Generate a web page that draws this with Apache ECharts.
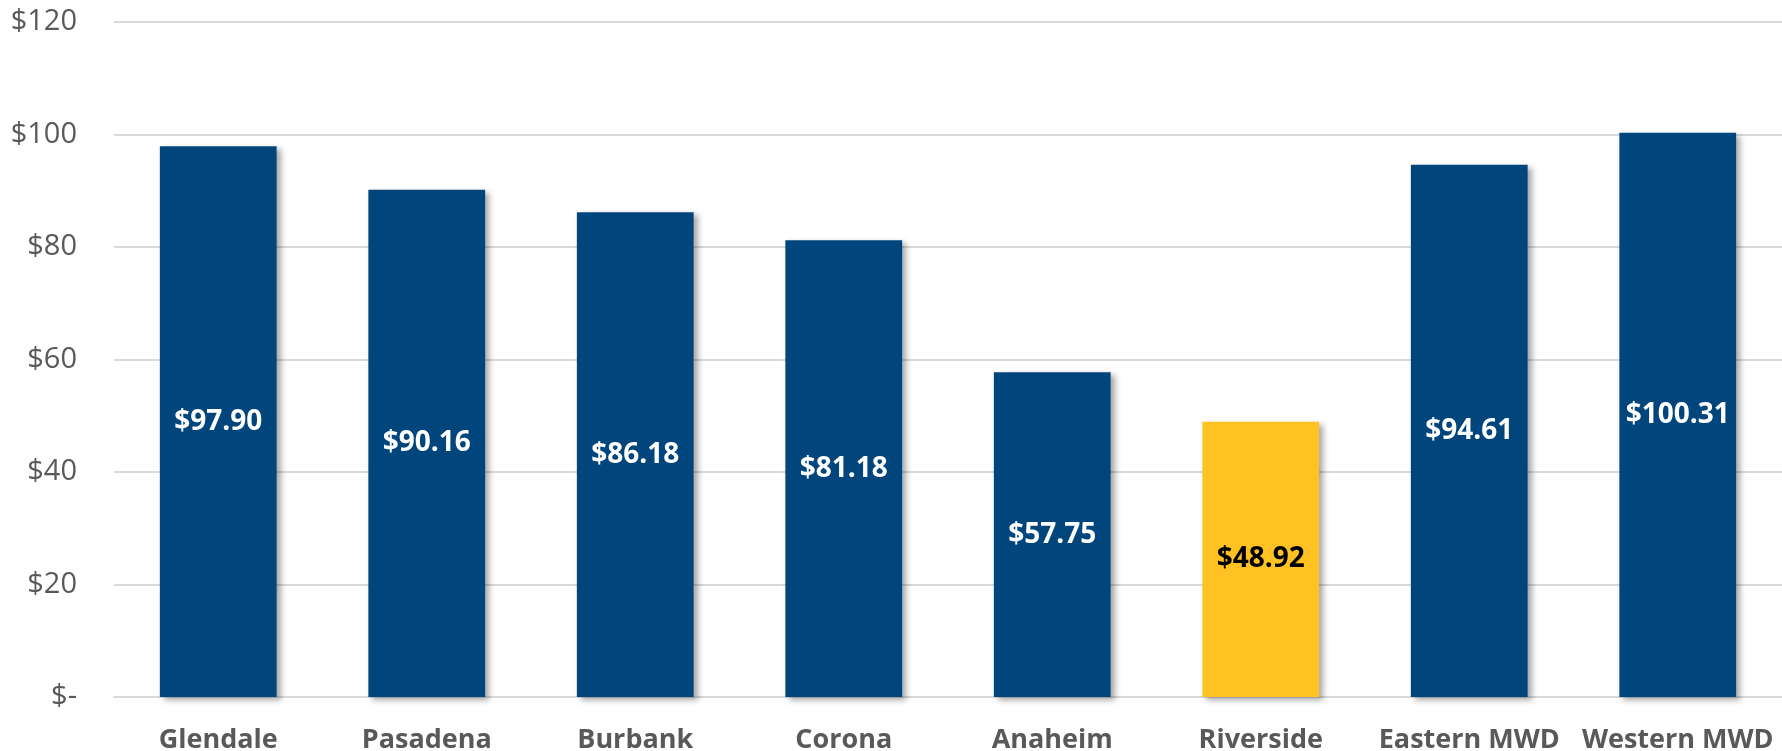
<!DOCTYPE html>
<html lang="en">
  <head>
    <meta charset="UTF-8" />
    <title>Monthly bill comparison</title>
    <script src="https://cdn.jsdelivr.net/npm/echarts@6/dist/echarts.min.js"></script>
    <style>
      html, body { margin: 0; padding: 0; background: #fff; }
    </style>
  </head>
  <body>
    <div id="container" style="width: 1782px;height: 751px"></div>
    <script>
      // categories and values
      var cities = ['Glendale', 'Pasadena', 'Burbank', 'Corona', 'Anaheim', 'Riverside', 'Eastern MWD', 'Western MWD']
      var bills = [97.90, 90.16, 86.18, 81.18, 57.75, 48.92, 94.61, 100.31]
      var highlight = 'Riverside'

      var navy = '#00457C'
      var gold = '#FFC222'

      var barData = []
      cities.forEach(function (name, i) {
        var isHi = name === highlight
        barData.push({
          value: bills[i],
          itemStyle: { color: isHi ? gold : navy },
          label: { color: isHi ? '#000' : '#fff' }
        })
      })

      var myChart = echarts.init(document.querySelector('#container'))
      myChart.setOption({
        animation: false,
        backgroundColor: '#fff',
        grid: { left: 114, right: 0, top: 22, bottom: 54, outerBoundsMode: 'none' },
        xAxis: {
          type: 'category',
          data: cities,
          axisTick: { show: false },
          axisLine: { lineStyle: { color: '#d9d9d9', width: 2 } },
          axisLabel: {
            interval: 0,
            hideOverlap: false,
            margin: 30,
            color: '#595959',
            fontFamily: 'Open Sans',
            fontWeight: 'bold',
            fontSize: 27
          }
        },
        yAxis: {
          type: 'value',
          min: 0,
          max: 120,
          interval: 20,
          axisLine: { show: false },
          axisTick: { show: false },
          splitLine: { lineStyle: { color: '#d9d9d9', width: 2 } },
          axisLabel: {
            margin: 37,
            color: '#595959',
            fontFamily: 'Open Sans',
            fontSize: 29,
            formatter: function (v) { return v === 0 ? '$-' : '$' + v }
          }
        },
        series: [
          {
            type: 'bar',
            data: barData,
            barWidth: '56%',
            itemStyle: {
              shadowBlur: 6,
              shadowOffsetX: 4,
              shadowOffsetY: 3,
              shadowColor: 'rgba(0,0,0,0.35)'
            },
            label: {
              show: true,
              position: 'inside',
              fontFamily: 'Open Sans',
              fontWeight: 'bold',
              fontSize: 28,
              formatter: function (p) { return '$' + p.value.toFixed(2) }
            }
          }
        ]
      })
    </script>
  </body>
</html>
